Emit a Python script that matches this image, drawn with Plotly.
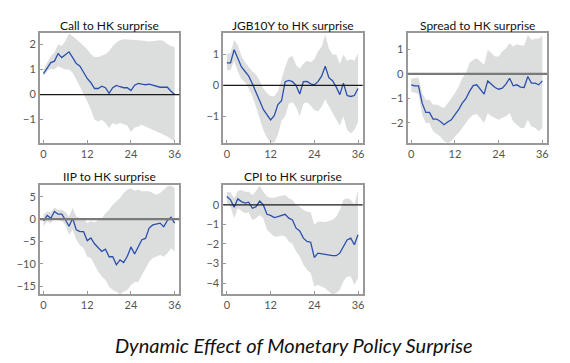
import plotly.graph_objects as go

months = list(range(37))

call_irf = [0.83, 1.07, 1.27, 1.33, 1.63, 1.47, 1.57, 1.70, 1.47, 1.23, 1.13, 0.87, 0.64, 0.47, 0.24, 0.24, 0.33, 0.27, 0.05, 0.27, 0.36, 0.31, 0.27, 0.27, 0.16, 0.37, 0.44, 0.41, 0.39, 0.41, 0.36, 0.32, 0.29, 0.29, 0.29, 0.13, 0.0]
call_up = [1.00, 1.27, 1.53, 1.67, 2.00, 1.93, 2.13, 2.43, 2.33, 2.20, 2.07, 1.93, 1.80, 1.60, 1.49, 1.49, 1.53, 1.60, 1.73, 1.93, 2.07, 2.16, 2.20, 2.20, 2.17, 2.17, 2.16, 2.13, 2.13, 2.11, 2.13, 2.13, 2.16, 2.13, 2.00, 1.93, 1.89]
call_lo = [0.73, 0.93, 1.03, 1.00, 1.13, 1.07, 1.00, 1.00, 0.87, 0.60, 0.33, 0.00, -0.27, -0.60, -1.00, -1.07, -1.00, -1.13, -1.33, -1.13, -1.20, -1.13, -1.17, -1.23, -1.49, -1.31, -1.27, -1.20, -1.27, -1.33, -1.40, -1.47, -1.53, -1.60, -1.67, -1.77, -1.87]

jgb_irf = [0.73, 0.73, 1.16, 0.85, 0.60, 0.45, 0.30, 0.05, -0.20, -0.50, -0.78, -0.97, -1.12, -0.98, -0.62, -0.50, 0.12, 0.16, 0.12, 0.00, -0.28, 0.12, 0.13, 0.05, 0.02, 0.12, 0.30, 0.62, 0.25, 0.15, -0.05, -0.30, 0.07, -0.33, -0.36, -0.33, -0.10]
jgb_up = [1.02, 1.05, 1.48, 1.30, 0.95, 0.75, 0.60, 0.45, 0.35, 0.15, -0.10, -0.25, -0.35, -0.35, -0.20, 0.20, 0.60, 0.90, 0.95, 0.65, 0.55, 0.70, 0.80, 0.75, 0.85, 1.10, 1.25, 1.65, 1.20, 1.00, 1.00, 0.70, 1.00, 0.80, 0.85, 0.80, 1.05]
jgb_lo = [0.50, 0.50, 0.80, 0.45, 0.20, 0.10, -0.10, -0.35, -0.70, -1.10, -1.45, -1.70, -1.85, -1.85, -1.60, -1.15, -1.00, -0.60, -0.55, -0.70, -1.00, -0.60, -0.55, -0.65, -0.80, -0.85, -0.70, -0.45, -0.70, -0.90, -1.10, -1.30, -1.00, -1.45, -1.55, -1.45, -1.20]

spread_irf = [-0.45, -0.49, -0.49, -1.20, -1.58, -1.58, -1.85, -1.85, -1.95, -2.08, -1.97, -1.88, -1.67, -1.47, -1.20, -1.02, -0.72, -0.48, -0.45, -0.65, -0.83, -0.29, -0.42, -0.56, -0.63, -0.59, -0.42, -0.18, -0.49, -0.45, -0.54, -0.56, -0.11, -0.38, -0.38, -0.45, -0.29]
spread_up = [-0.20, -0.18, -0.15, -0.79, -1.06, -1.06, -1.27, -1.27, -1.33, -1.40, -1.20, -1.00, -0.79, -0.52, -0.18, 0.03, 0.44, 0.57, 0.64, 0.50, 0.37, 0.98, 0.84, 0.71, 0.71, 0.91, 1.05, 1.25, 1.12, 1.21, 1.16, 1.16, 1.59, 1.39, 1.43, 1.43, 1.56]
spread_lo = [-0.72, -0.79, -0.83, -1.67, -2.01, -2.01, -2.35, -2.46, -2.56, -2.76, -2.83, -2.76, -2.56, -2.42, -2.22, -2.01, -1.81, -1.67, -1.65, -1.81, -2.01, -1.60, -1.74, -1.81, -1.88, -1.81, -1.74, -1.60, -1.95, -2.08, -2.22, -2.22, -1.88, -2.15, -2.22, -2.35, -2.22]

iip_irf = [-0.4, 0.8, 0.2, 1.7, 1.1, 1.1, -0.15, -1.6, 0.2, -2.4, -2.8, -2.8, -4.8, -4.2, -5.5, -6.3, -7.2, -6.7, -8.4, -8.4, -10.2, -9.1, -9.7, -8.3, -6.2, -7.8, -6.0, -4.6, -4.3, -2.0, -1.3, -1.1, -0.9, -1.7, -0.3, 0.4, -0.9]
iip_up = [1.0, 1.7, 1.5, 2.6, 2.1, 2.1, 1.6, 0.6, 2.5, 0.6, 0.2, 0.2, -0.9, -0.5, -0.7, -0.15, 0.2, 1.3, 2.1, 3.2, 4.0, 4.7, 5.8, 6.6, 6.8, 6.3, 6.6, 6.2, 6.2, 6.2, 5.8, 5.4, 5.8, 6.6, 7.3, 7.5, 6.9]
iip_lo = [-1.6, -0.5, -0.9, 0.2, -0.2, -0.4, -1.3, -3.5, -2.4, -4.6, -5.9, -6.5, -8.4, -8.7, -10.2, -11.7, -12.8, -13.6, -15.1, -15.8, -16.2, -16.8, -16.2, -15.8, -14.7, -14.0, -14.0, -12.5, -11.3, -9.5, -8.7, -8.4, -8.0, -8.4, -7.6, -6.5, -7.2]

cpi_irf = [0.43, 0.26, -0.12, 0.31, 0.17, 0.09, 0.14, -0.17, -0.09, 0.20, 0.00, -0.48, -0.54, -0.65, -0.60, -0.54, -0.48, -0.68, -0.77, -1.19, -1.33, -1.70, -1.87, -1.91, -2.69, -2.47, -2.50, -2.55, -2.59, -2.60, -2.60, -2.47, -2.13, -1.79, -1.70, -2.04, -1.53]
cpi_up = [0.68, 0.65, 0.34, 0.71, 0.77, 0.68, 0.68, 0.51, 0.71, 0.99, 0.68, 0.43, 0.37, 0.37, 0.43, 0.48, 0.51, 0.34, 0.26, 0.00, -0.09, -0.26, -0.34, -0.37, -1.02, -0.85, -0.85, -0.88, -0.82, -0.77, -0.60, -0.26, 0.26, 0.34, 0.26, 0.00, 0.77]
cpi_lo = [0.09, -0.09, -0.68, -0.17, -0.31, -0.43, -0.37, -0.77, -0.68, -0.51, -0.68, -1.28, -1.45, -1.62, -1.62, -1.57, -1.62, -1.87, -2.00, -2.38, -2.64, -3.06, -3.32, -3.49, -4.17, -4.09, -4.17, -4.26, -4.43, -4.60, -4.51, -4.34, -3.91, -3.66, -3.66, -4.09, -3.74]

titles = ["Call to HK surprise", "JGB10Y to HK surprise", "Spread to HK surprise",
          "IIP to HK surprise", "CPI to HK surprise"]
x_ticks = [0, 12, 24, 36]
y_ticks = [[-1, 0, 1, 2], [-1, 0, 1], [-2, -1, 0, 1], [-15, -10, -5, 0, 5], [-4, -3, -2, -1, 0]]
y_ranges = [[-1.93, 2.45], [-1.87, 1.70], [-2.83, 1.67], [-16.7, 7.6], [-4.56, 1.02]]
zero_colors = ["#1a1a1a", "#1a1a1a", "#7a7a7a", "#7a7a7a", "#1a1a1a"]
zero_widths = [1.3, 1.3, 2.2, 2.2, 1.3]

W, H = 570, 363
cols_px = [(32, 172), (216, 356), (401, 541)]
rows_px = [(25, 135), (177, 286)]
positions = [(0, 0), (0, 1), (0, 2), (1, 0), (1, 1)]

panels = [(call_irf, call_up, call_lo), (jgb_irf, jgb_up, jgb_lo), (spread_irf, spread_up, spread_lo),
          (iip_irf, iip_up, iip_lo), (cpi_irf, cpi_up, cpi_lo)]

fig = go.Figure()
BAND = "#dcdddd"
LINE = "#2a4fae"
FRAME = "#999999"
TICKC = "#555555"
FONT = "Lato"

for i, (irf, up, lo) in enumerate(panels):
    n = i + 1
    xa = "x" if n == 1 else f"x{n}"
    ya = "y" if n == 1 else f"y{n}"
    fig.add_trace(go.Scatter(x=months, y=up, mode="lines", line=dict(width=0, color=BAND),
                             xaxis=xa, yaxis=ya, showlegend=False, hoverinfo="skip"))
    fig.add_trace(go.Scatter(x=months, y=lo, mode="lines", line=dict(width=0, color=BAND),
                             fill="tonexty", fillcolor=BAND,
                             xaxis=xa, yaxis=ya, showlegend=False, hoverinfo="skip"))
    fig.add_trace(go.Scatter(x=months, y=irf, mode="lines", line=dict(width=1.3, color=LINE),
                             xaxis=xa, yaxis=ya, showlegend=False))
    r, c = positions[i]
    x0, x1 = cols_px[c]
    y0, y1 = rows_px[r]
    axcommon = dict(showline=True, mirror=True, linecolor=FRAME, linewidth=1.8,
                    ticks="inside", ticklen=3, tickcolor=FRAME, showgrid=False, zeroline=False,
                    tickfont=dict(family=FONT, size=11, color=TICKC))
    fig.layout[("xaxis" if n == 1 else f"xaxis{n}")] = dict(
        domain=[x0 / W, x1 / W], range=[-1, 37.3], tickvals=x_ticks,
        anchor=ya, **axcommon)
    fig.layout[("yaxis" if n == 1 else f"yaxis{n}")] = dict(
        domain=[1 - y1 / H, 1 - y0 / H], range=y_ranges[i], tickvals=y_ticks[i],
        anchor=xa, **axcommon)
    fig.add_shape(type="line", xref=f"{xa} domain", yref=ya, x0=0, x1=1, y0=0, y1=0,
                  line=dict(color=zero_colors[i], width=zero_widths[i]), layer="above")
    fig.add_annotation(text=titles[i], x=(x0 + x1) / 2 / W, y=1 - (y0 - 8) / H,
                       xref="paper", yref="paper", showarrow=False,
                       font=dict(family=FONT, size=12, color="#111111"),
                       xanchor="center", yanchor="middle")

fig.add_annotation(text="<i>Dynamic Effect of Monetary Policy Surprise</i>",
                   x=287 / W, y=1 - 337 / H, xref="paper", yref="paper", showarrow=False,
                   font=dict(family=FONT, size=20, color="#111111"),
                   xanchor="center", yanchor="middle")

fig.update_layout(width=W, height=H, margin=dict(l=0, r=0, t=0, b=0),
                  plot_bgcolor="white", paper_bgcolor="white")

fig.write_html("out.html")
